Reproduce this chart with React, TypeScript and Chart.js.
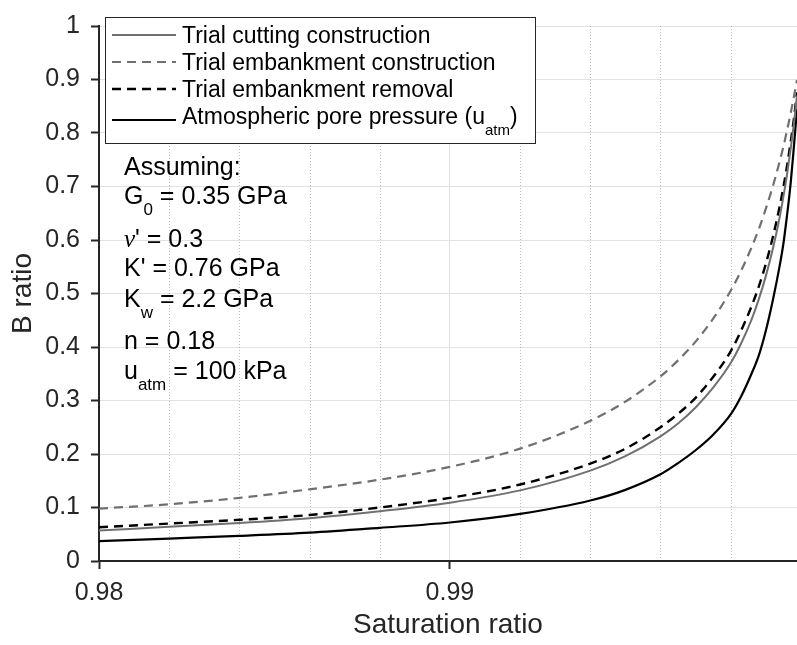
import React, { useEffect, useRef } from 'react';
import { Chart, registerables } from 'chart.js';

Chart.register(...registerables);

// ---------- data ----------
const saturation = [
  0.98, 0.982, 0.984, 0.986, 0.988, 0.99, 0.992, 0.994, 0.995, 0.996, 0.9965, 0.997, 0.9975,
  0.998, 0.9983, 0.9986, 0.9988, 0.999, 0.9992, 0.9994, 0.9995, 0.9996, 0.9997, 0.9998, 0.99989,
];
const bTrialCutting = [
  0.057, 0.064, 0.071, 0.080, 0.093, 0.109, 0.132, 0.169, 0.196, 0.233, 0.257, 0.287, 0.324,
  0.370, 0.407, 0.452, 0.489, 0.532, 0.583, 0.644, 0.680, 0.720, 0.766, 0.817, 0.870,
];
const bEmbankmentConstruction = [
  0.098, 0.106, 0.118, 0.134, 0.152, 0.176, 0.210, 0.262, 0.298, 0.345, 0.375, 0.410, 0.453,
  0.505, 0.543, 0.587, 0.620, 0.658, 0.700, 0.748, 0.774, 0.803, 0.834, 0.867, 0.899,
];
const bEmbankmentRemoval = [
  0.063, 0.070, 0.077, 0.086, 0.100, 0.118, 0.143, 0.182, 0.210, 0.250, 0.275, 0.305, 0.344,
  0.392, 0.431, 0.477, 0.513, 0.555, 0.605, 0.664, 0.698, 0.736, 0.779, 0.826, 0.876,
];
const bAtmospheric = [
  0.037, 0.042, 0.047, 0.053, 0.062, 0.072, 0.088, 0.113, 0.133, 0.162, 0.183, 0.207, 0.236,
  0.274, 0.308, 0.351, 0.384, 0.430, 0.487, 0.553, 0.592, 0.643, 0.700, 0.773, 0.845,
];

const xAxisMin = 0.98;
const xAxisMax = 0.99989;
const xTickValues = [0.98, 0.99];
const xTickLabels = ['0.98', '0.99'];
const xMinorGrid = [0.982, 0.984, 0.986, 0.988, 0.992, 0.994, 0.996, 0.998];
const yTickValues = [0, 0.1, 0.2, 0.3, 0.4, 0.5, 0.6, 0.7, 0.8, 0.9, 1];
const yTickLabels = ['0', '0.1', '0.2', '0.3', '0.4', '0.5', '0.6', '0.7', '0.8', '0.9', '1'];

const xTitle = 'Saturation ratio';
const yTitle = 'B ratio';

type Part = { text: string; sub?: boolean; italic?: boolean };

const legendLabels: Part[][] = [
  [{ text: 'Trial cutting construction' }],
  [{ text: 'Trial embankment construction' }],
  [{ text: 'Trial embankment removal' }],
  [{ text: 'Atmospheric pore pressure (u' }, { text: 'atm', sub: true }, { text: ')' }],
];

const annotationLines: Part[][] = [
  [{ text: 'Assuming:' }],
  [{ text: 'G' }, { text: '0', sub: true }, { text: ' = 0.35 GPa' }],
  [{ text: 'ν', italic: true }, { text: "' = 0.3" }],
  [{ text: "K' = 0.76 GPa" }],
  [{ text: 'K' }, { text: 'w', sub: true }, { text: ' = 2.2 GPa' }],
  [{ text: 'n = 0.18' }],
  [{ text: 'u' }, { text: 'atm', sub: true }, { text: ' = 100 kPa' }],
];

// ---------- styling ----------
const FONT = "'Liberation Sans', Arial, Helvetica, sans-serif";
const SERIF = "'Liberation Serif', 'Times New Roman', serif";
const AXIS = '#262626';
const GRAY = '#707070';

const seriesStyles = [
  { color: GRAY, dash: [] as number[], width: 2 },
  { color: GRAY, dash: [9, 6], width: 2.2 },
  { color: '#000000', dash: [9, 6], width: 2.4 },
  { color: '#000000', dash: [] as number[], width: 2.2 },
];
const seriesValues = [bTrialCutting, bEmbankmentConstruction, bEmbankmentRemoval, bAtmospheric];

function drawRich(ctx: CanvasRenderingContext2D, x: number, baseline: number, parts: Part[], size: number) {
  let cx = x;
  for (const p of parts) {
    const fs = p.sub ? Math.round(size * 0.66) : size;
    ctx.font = p.italic ? `italic ${fs}px ${SERIF}` : `${fs}px ${FONT}`;
    const y = p.sub ? baseline + size * 0.45 : baseline;
    ctx.fillText(p.text, cx, y);
    cx += ctx.measureText(p.text).width;
  }
}

const overlayPlugin = {
  id: 'overlay',
  beforeDatasetsDraw(chart: any) {
    const { ctx, chartArea, scales } = chart;
    ctx.save();
    ctx.strokeStyle = 'rgba(38,38,38,0.3)';
    ctx.lineWidth = 1;
    ctx.setLineDash([1, 2]);
    for (const v of xMinorGrid) {
      const px = Math.round(scales.x.getPixelForValue(v)) + 0.5;
      ctx.beginPath();
      ctx.moveTo(px, chartArea.top);
      ctx.lineTo(px, chartArea.bottom);
      ctx.stroke();
    }
    ctx.restore();
  },
  afterDraw(chart: any) {
    const { ctx } = chart;
    ctx.save();
    // legend box
    const bx = 105.5, by = 17.5, bw = 430, bh = 126;
    ctx.fillStyle = '#ffffff';
    ctx.fillRect(bx, by, bw, bh);
    ctx.strokeStyle = AXIS;
    ctx.lineWidth = 1;
    ctx.setLineDash([]);
    ctx.strokeRect(bx, by, bw, bh);
    const rowCenters = [35, 62, 89, 116];
    const sampleY = [35, 62, 89, 120];
    const lsize = 23;
    ctx.textBaseline = 'alphabetic';
    ctx.textAlign = 'left';
    legendLabels.forEach((parts, i) => {
      const st = seriesStyles[i];
      ctx.strokeStyle = st.color;
      ctx.lineWidth = st.width;
      ctx.setLineDash(st.dash);
      ctx.beginPath();
      ctx.moveTo(112, sampleY[i]);
      ctx.lineTo(176, sampleY[i]);
      ctx.stroke();
      ctx.fillStyle = '#000000';
      drawRich(ctx, 182, rowCenters[i] + 0.358 * lsize, parts, lsize);
    });
    // annotation
    const asize = 25;
    const lineCenters = [166, 195, 238, 267, 298, 340, 370];
    ctx.fillStyle = '#000000';
    annotationLines.forEach((parts, i) => {
      drawRich(ctx, 124, lineCenters[i] + 0.358 * asize, parts, asize);
    });
    ctx.restore();
  },
};

export default function App() {
  const ref = useRef<HTMLCanvasElement>(null);
  useEffect(() => {
    const canvas = ref.current;
    if (!canvas) return;
    const datasets = seriesValues.map((vals, i) => ({
      label: legendLabels[i].map((p) => p.text).join(''),
      data: saturation.map((s, j) => ({ x: s, y: vals[j] })),
      borderColor: seriesStyles[i].color,
      borderWidth: seriesStyles[i].width,
      borderDash: seriesStyles[i].dash,
      pointRadius: 0,
      fill: false,
      cubicInterpolationMode: 'monotone' as const,
    }));
    const chart = new Chart(canvas, {
      type: 'line',
      data: { datasets },
      options: {
        responsive: false,
        animation: false,
        devicePixelRatio: 1,
        layout: { padding: { top: 15, right: 0, bottom: 0, left: 0 } },
        plugins: { legend: { display: false }, tooltip: { enabled: false } },
        scales: {
          x: {
            type: 'linear',
            min: xAxisMin,
            max: xAxisMax,
            afterBuildTicks: (scale: any) => {
              scale.ticks = xTickValues.map((v) => ({ value: v }));
            },
            afterFit: (scale: any) => {
              scale.height = 84;
            },
            ticks: {
              autoSkip: false,
              maxRotation: 0,
              padding: 9,
              color: AXIS,
              font: { family: FONT, size: 25 },
              callback: (_v: any, i: number) => xTickLabels[i],
            },
            grid: {
              color: '#e2e2e2',
              lineWidth: 1,
              tickColor: AXIS,
              tickLength: 8,
              tickWidth: 2,
            },
            border: { color: AXIS, width: 2 },
            title: {
              display: true,
              text: xTitle,
              color: AXIS,
              font: { family: FONT, size: 28, lineHeight: 1.2 },
              padding: { top: 0, bottom: 3 },
            },
          },
          y: {
            type: 'linear',
            min: 0,
            max: 1,
            afterBuildTicks: (scale: any) => {
              scale.ticks = yTickValues.map((v) => ({ value: v }));
            },
            afterFit: (scale: any) => {
              scale.width = 99;
            },
            ticks: {
              autoSkip: false,
              padding: 11,
              color: AXIS,
              font: { family: FONT, size: 25 },
              callback: (_v: any, i: number) => yTickLabels[i],
            },
            grid: {
              color: '#e2e2e2',
              lineWidth: 1,
              tickColor: AXIS,
              tickLength: 8,
              tickWidth: 2,
            },
            border: { color: AXIS, width: 2 },
            title: {
              display: true,
              text: yTitle,
              color: AXIS,
              font: { family: FONT, size: 28, lineHeight: 1.2 },
              padding: { top: 6, bottom: 0 },
            },
          },
        },
      },
      plugins: [overlayPlugin],
    });
    return () => chart.destroy();
  }, []);
  return (
    <div style={{ position: 'absolute', left: 0, top: 0, width: 797, height: 645, background: '#ffffff' }}>
      <canvas ref={ref} width={797} height={645} style={{ display: 'block', width: 797, height: 645 }} />
    </div>
  );
}
